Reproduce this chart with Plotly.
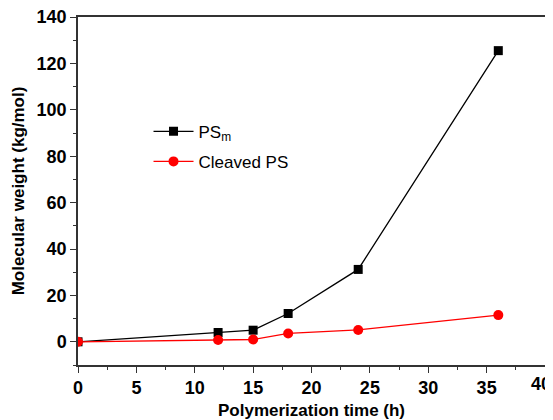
import plotly.graph_objects as go

time_h = [0, 12, 15, 18, 24, 36]
ps_m = [0, 4.0, 5.0, 12.2, 31.2, 125.5]
cleaved_ps = [0, 0.8, 1.0, 3.6, 5.1, 11.5]

x_tick_vals = [0, 5, 10, 15, 20, 25, 30, 35, 40]
x_tick_labels = ["0", "5", "10", "15", "20", "25", "30", "35", "40"]

fig = go.Figure()
fig.add_trace(go.Scatter(x=time_h, y=ps_m, mode="lines+markers", name="PS<sub>m</sub>",
                         legendgroup="a",
                         line=dict(color="black", width=1.3),
                         marker=dict(symbol="square", size=9, color="black")))
fig.add_trace(go.Scatter(x=time_h, y=cleaved_ps, mode="lines+markers", name="Cleaved PS",
                         legendgroup="b",
                         line=dict(color="red", width=1.3),
                         marker=dict(symbol="circle", size=10, color="red")))

axis_common = dict(showline=True, linecolor="#333", linewidth=1.5, mirror=True,
                   showgrid=False, zeroline=False, ticks="outside", ticklen=6,
                   tickwidth=1, tickcolor="#333", automargin=False,
                   ticklabeloverflow="allow",
                   tickfont=dict(family="Liberation Sans, Arial", size=18, color="black"))

# last x label is placed as an annotation so it can sit fully inside the page
shown_labels = ["<b>%s</b>" % t for t in x_tick_labels[:-1]] + [""]

# page body has an 8px default margin, so the figure is sized/offset to compensate
fig.update_layout(
    width=545, height=412,
    margin=dict(l=70, r=8, t=9, b=55),
    plot_bgcolor="white", paper_bgcolor="white",
    font=dict(family="Liberation Sans, Arial", color="black"),
    xaxis=dict(range=[0, 40], tickvals=x_tick_vals, ticktext=shown_labels,
               minor=dict(ticks="outside", ticklen=3, dtick=2.5, tickcolor="#333"),
               title=dict(text="<b>Polymerization time (h)</b>", font=dict(size=17), standoff=9),
               **axis_common),
    yaxis=dict(range=[-10, 140], dtick=20, tick0=0,
               tickprefix="<b>", ticksuffix="</b>",
               minor=dict(ticks="outside", ticklen=3, dtick=10, tickcolor="#333"),
               title=dict(text="<b>Molecular weight (kg/mol)</b>", font=dict(size=17), standoff=8),
               **axis_common),
    legend=dict(x=0.151, y=0.722, xanchor="left", yanchor="top",
                bgcolor="rgba(0,0,0,0)", font=dict(size=17),
                traceorder="grouped", tracegroupgap=5, itemwidth=40),
    showlegend=True,
)
fig.add_annotation(x=x_tick_vals[-1], xref="x", y=0, yref="paper",
                   text="<b>%s</b>" % x_tick_labels[-1], showarrow=False,
                   xanchor="center", yanchor="top", xshift=-4, yshift=-8,
                   borderpad=0,
                   font=dict(family="Liberation Sans, Arial", size=18, color="black"))

fig.write_html("out.html")
